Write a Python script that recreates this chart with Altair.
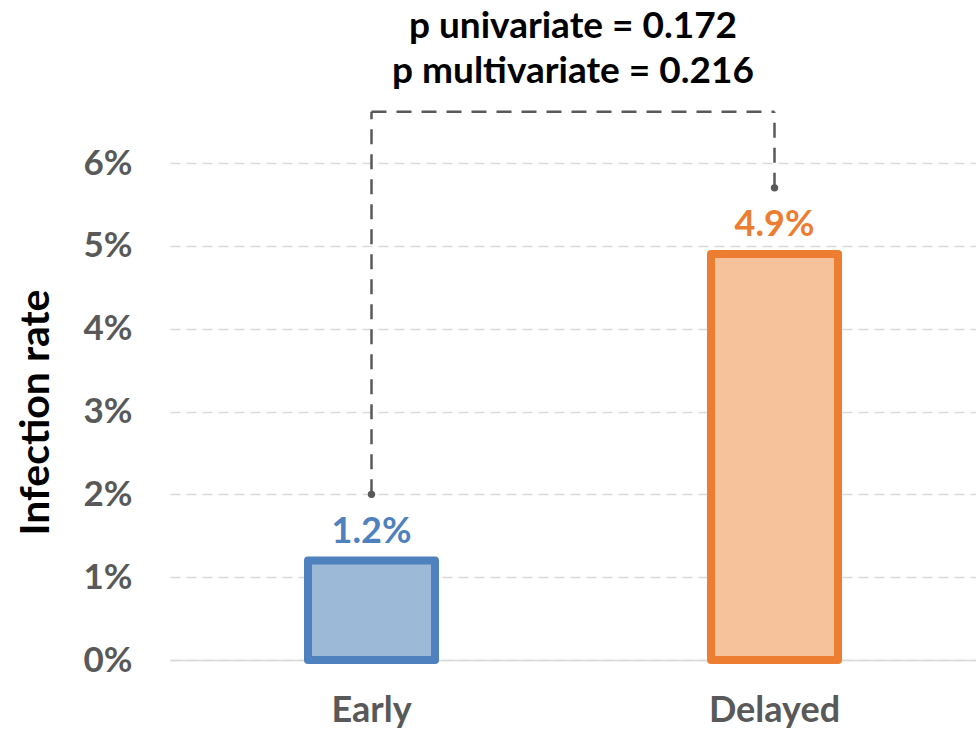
import altair as alt
import pandas as pd

groups = ["Early", "Delayed"]
rates = [1.2, 4.9]
rate_labels = ["1.2%", "4.9%"]
stroke_colors = ["#4E81BD", "#ED7D31"]
fill_colors = ["#9DB9D8", "#F5C29B"]
y_ticks = [0, 1, 2, 3, 4, 5, 6]
p_lines = ["p univariate = 0.172", "p multivariate = 0.216"]

# bracket annotation (in % units)
bracket_top = 6.62
bracket_start = [2.0, 5.7]  # Early end, Delayed end

FONT = "Lato"

df = pd.DataFrame({"group": groups, "rate": rates, "label": rate_labels})
br_v = pd.DataFrame({"group": groups, "y0": bracket_start, "y1": [bracket_top, bracket_top]})
br_h = pd.DataFrame({"g1": [groups[0]], "g2": [groups[1]], "y": [bracket_top]})

x_scale = alt.Scale(domain=groups, paddingInner=0, paddingOuter=0)
y_scale = alt.Scale(domain=[0, 6], nice=False)
color_stroke = alt.Scale(domain=groups, range=stroke_colors)
color_fill = alt.Scale(domain=groups, range=fill_colors)

x_axis = alt.Axis(
    title=None, labelAngle=0, labelFont=FONT, labelFontSize=36, labelFontWeight="bold",
    labelColor="#595959", ticks=False, labelPadding=33, domain=True,
    domainColor="#D9D9D9", domainWidth=1.5, grid=False,
)
y_axis = alt.Axis(
    title="Infection rate", values=y_ticks, labelExpr="datum.value + '%'",
    labelFont=FONT, labelFontSize=35, labelFontWeight="bold", labelColor="#595959",
    ticks=False, tickSize=0, labelPadding=38, domain=False,
    grid=True, gridColor="#D9D9D9", gridDash=[10, 6], gridWidth=1.5,
    titleFont=FONT, titleFontSize=41, titleFontWeight="bold", titleColor="#000000",
    titleAngle=270, titleAlign="center", titleBaseline="middle",
    titleX=-134, titleY=249,
)

X = lambda f: alt.X(f, scale=x_scale, axis=x_axis, sort=groups)
Y = lambda f: alt.Y(f, scale=y_scale, axis=y_axis)

bars = alt.Chart(df).mark_bar(size=127, strokeWidth=8, strokeJoin="round").encode(
    x=X("group:N"),
    y=Y("rate:Q"),
    fill=alt.Fill("group:N", scale=color_fill, legend=None),
    stroke=alt.Stroke("group:N", scale=color_stroke, legend=None),
)

labels = alt.Chart(df).mark_text(
    font=FONT, fontSize=36, fontWeight="bold", baseline="alphabetic", dy=-18
).encode(
    x=X("group:N"),
    y=Y("rate:Q"),
    text="label:N",
    color=alt.Color("group:N", scale=color_stroke, legend=None),
)

rule_style = dict(color="#595959", strokeWidth=2.5, strokeDash=[15, 10])

v_rules = alt.Chart(br_v).mark_rule(**rule_style).encode(
    x=X("group:N"),
    y=Y("y0:Q"),
    y2="y1:Q",
)
h_rule = alt.Chart(br_h).mark_rule(**rule_style).encode(
    x=X("g1:N"),
    x2="g2:N",
    y=Y("y:Q"),
)
dots = alt.Chart(br_v).mark_circle(size=55, color="#595959", opacity=1).encode(
    x=X("group:N"),
    y=Y("y0:Q"),
)

chart = alt.layer(bars, labels, v_rules, h_rule, dots).properties(
    width=806, height=497,
    padding={"left": 170, "top": 163, "right": 0, "bottom": 71},
    autosize=alt.AutoSizeParams(type="none"),
    background="white",
    title=alt.TitleParams(
        text=p_lines, font=FONT, fontSize=37, fontWeight="bold", color="#000000",
        anchor="middle", frame="group", baseline="alphabetic", lineHeight=45, offset=-10,
    ),
).configure_view(strokeWidth=0, stroke="transparent")

chart.save("out.html", embed_options={"renderer": "svg", "actions": False})
